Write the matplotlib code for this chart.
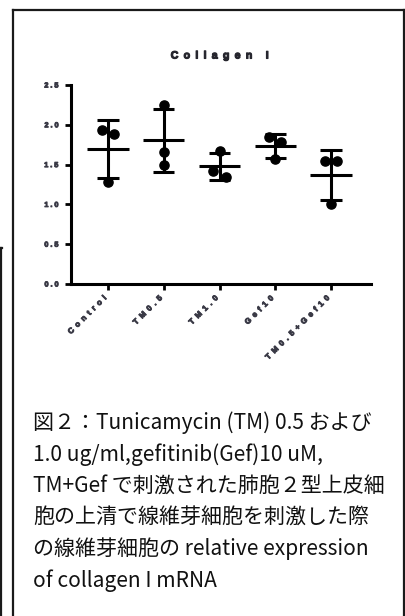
import matplotlib
matplotlib.use('Agg')
import matplotlib.pyplot as plt
import matplotlib.patheffects as pe
import matplotlib.transforms as mtransforms
import numpy as np
from matplotlib.lines import Line2D

# ---------------- data ----------------
categories = ['Control', 'TM0.5', 'TM1.0', 'Gef10', 'TM0.5+Gef10']
ctrl_vals = [1.93, 1.89, 1.28]
tm05_vals = [2.25, 1.66, 1.50]
tm10_vals = [1.34, 1.42, 1.67]
gef_vals = [1.85, 1.78, 1.57]
combo_vals = [1.55, 1.55, 1.00]
yticks = [0.0, 0.5, 1.0, 1.5, 2.0, 2.5]
title = 'Collagen I'
caption_lines = [
    '図２：Tunicamycin (TM) 0.5 および',
    '1.0 ug/ml,gefitinib(Gef)10 uM,',
    'TM+Gef で刺激された肺胞２型上皮細',
    '胞の上清で線維芽細胞を刺激した際',
    'の線維芽細胞の relative expression',
    'of collagen I mRNA',
]
groups = [ctrl_vals, tm05_vals, tm10_vals, gef_vals, combo_vals]

# ---------------- figure ----------------
W, H = 406, 616
fig = plt.figure(figsize=(W / 100, H / 100), dpi=100)
fig.patch.set_facecolor('white')


def fx(x):
    return x / W


def fy(y):
    return 1 - y / H


def spaced(s, gap='\u2002'):
    return gap.join(s)


LAB = '#3a3a46'
FONT = ['Liberation Sans', 'DejaVu Sans']
thick = [pe.withStroke(linewidth=0.7, foreground=LAB)]

# frame lines
frame_kw = dict(color='#1a1a1a', lw=1.6, transform=fig.transFigure)
fig.add_artist(Line2D([fx(13.5), fx(13.5)], [fy(9.5), fy(620)], **frame_kw))
fig.add_artist(Line2D([fx(13.5), fx(404.5)], [fy(9.5), fy(9.5)], **frame_kw))
fig.add_artist(Line2D([fx(404.5), fx(404.5)], [fy(9.5), fy(620)], **frame_kw))
fig.add_artist(Line2D([fx(1.5), fx(1.5)], [fy(248.5), fy(620)], **frame_kw))
fig.add_artist(Line2D([fx(0), fx(2.5)], [fy(248.5), fy(248.5)], **frame_kw))

ax = fig.add_axes([fx(71), fy(284), (371 - 71) / W, (284 - 85) / H])
ax.set_facecolor('none')
ax.set_xlim(-0.664, 4.717)
ax.set_ylim(0, 2.5)
for s in ['top', 'right']:
    ax.spines[s].set_visible(False)
for s in ['left', 'bottom']:
    ax.spines[s].set_linewidth(2.2)
    ax.spines[s].set_color('black')

ax.set_yticks(yticks)
ylabs = ax.set_yticklabels([' '.join(f'{v:.1f}') for v in yticks],
                           fontsize=5.2, fontweight='bold', color=LAB,
                           family=FONT)
ax.set_xticks(range(len(categories)))
xlabs = ax.set_xticklabels([spaced(c) for c in categories], rotation=45,
                           ha='right', va='top', fontsize=5.6,
                           fontweight='bold', color=LAB, family=FONT)
shift = mtransforms.ScaledTranslation(4 / 100, -4 / 100, fig.dpi_scale_trans)
for t in xlabs:
    t.set_transform(t.get_transform() + shift)
    t.set_path_effects(thick)
yshift = mtransforms.ScaledTranslation(0, -2 / 100, fig.dpi_scale_trans)
for t in ylabs:
    t.set_transform(t.get_transform() + yshift)
    t.set_path_effects(thick)
ax.tick_params(axis='both', length=4, width=2, color='black')
ax.tick_params(axis='y', pad=5)
ax.tick_params(axis='x', pad=4)


def jitter(vals, close=0.1, off=0.11):
    offs = [0.0] * len(vals)
    order = list(np.argsort(vals))
    for a, b in zip(order[:-1], order[1:]):
        if abs(vals[b] - vals[a]) < close and offs[a] == 0 and offs[b] == 0:
            offs[a] = off
            offs[b] = -off
    return offs


for i, vals in enumerate(groups):
    v = np.array(vals)
    m = v.mean()
    sd = v.std(ddof=1)
    offs = jitter(vals)
    ax.plot(i + np.array(offs), v, 'o', ms=6.6, color='black', zorder=3,
            clip_on=False)
    ax.hlines(m, i - 0.37, i + 0.37, color='black', lw=2.2, zorder=4)
    ax.vlines(i, m - sd, m + sd, color='black', lw=2.2, zorder=4)
    ax.hlines([m - sd, m + sd], i - 0.19, i + 0.19, color='black', lw=2.2,
              zorder=4)

fig.text(fx(219.5), fy(55.5), spaced(title), ha='center', va='center',
         fontsize=7.6, fontweight='bold', color='#26262e', family=FONT,
         path_effects=[pe.withStroke(linewidth=0.8, foreground='#26262e')])

# caption
base0 = 429
step = 31.6
for k, line in enumerate(caption_lines):
    fig.text(fx(33), fy(base0 + k * step), line, ha='left', va='baseline',
             fontsize=15.1, color='#111111',
             family=['Noto Sans CJK JP', 'DejaVu Sans'])

fig.savefig('out.png', dpi=100, facecolor='white')
